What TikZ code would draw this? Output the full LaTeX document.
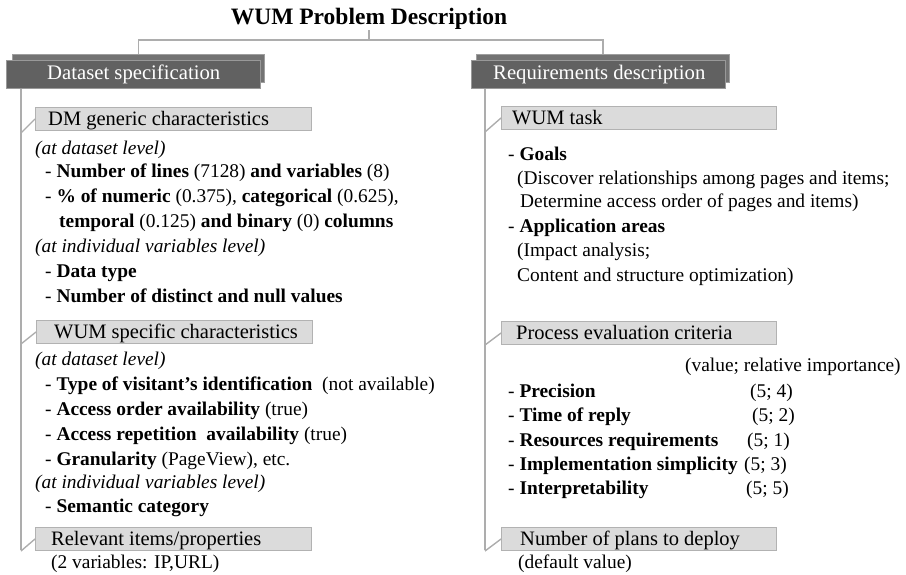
\documentclass[tikz,border=0pt]{standalone}
\usepackage{fontspec}
\setmainfont{Liberation Serif}
\begin{document}
\begin{tikzpicture}[x=1pt,y=-1pt,
  hdrback/.style={draw=black!38, fill=black!55, line width=1pt, anchor=north west, inner sep=0},
  hdrfront/.style={draw=black!40, fill=black!62, line width=1pt, anchor=north west, inner sep=0},
  subbox/.style={draw=black!30, fill=black!14, line width=1pt, anchor=north west, inner sep=0},
  conn/.style={draw=black!32, line width=1.4pt},
  txt/.style={anchor=base west, inner sep=0, font=\fontsize{19.4}{23}\selectfont},
  itx/.style={anchor=base west, inner sep=0, font=\fontsize{19.4}{23}\selectfont\itshape},
  boxtxt/.style={anchor=base west, inner sep=0, font=\fontsize{20.5}{24}\selectfont},
  hdrtxt/.style={anchor=base west, inner sep=0, text=white, font=\fontsize{20.7}{24}\selectfont}]
\useasboundingbox (0,0) rectangle (906,575);

% title
\node[anchor=base, inner sep=0, font=\fontsize{23.5}{28}\selectfont\bfseries] (title) at (369,25) {WUM Problem Description};

% headers
\node[hdrback, minimum width=252pt, minimum height=28pt] (dsB) at (12,54) {};
\node[hdrfront, minimum width=254pt, minimum height=28pt] (dsF) at (6,60) {};
\node[hdrtxt] (dsT) at (47,80) {Dataset specification};
\node[hdrback, minimum width=253pt, minimum height=28pt] (rqB) at (476,54) {};
\node[hdrfront, minimum width=254pt, minimum height=28pt] (rqF) at (471,60) {};
\node[hdrtxt] (rqT) at (493,80) {Requirements description};

% title connectors
\coordinate (hl) at (369,40);
\draw[conn] (title.south) -- (hl);
\draw[conn] (dsB.north) -- (dsB.north |- hl) -- (rqB.north |- hl) -- (rqB.north);

% left sub boxes
\node[subbox, minimum width=276pt, minimum height=23pt] (dm) at (35,107) {};
\node[boxtxt] (dmT) at (48,126) {DM generic characteristics};
\node[subbox, minimum width=276pt, minimum height=23pt] (ws) at (36,320) {};
\node[boxtxt] (wsT) at (54,338) {WUM specific characteristics};
\node[subbox, minimum width=276pt, minimum height=23pt] (rel) at (35,527) {};
\node[boxtxt] (relT) at (51,545) {Relevant items/properties};

% right sub boxes
\node[subbox, minimum width=275pt, minimum height=23pt] (wt) at (501,106) {};
\node[boxtxt] (wtT) at (512,125) {WUM task};
\node[subbox, minimum width=275pt, minimum height=23pt] (pe) at (501,321) {};
\node[boxtxt] (peT) at (516,339) {Process evaluation criteria};
\node[subbox, minimum width=275pt, minimum height=23pt] (np) at (501,527) {};
\node[boxtxt] (npT) at (520,545) {Number of plans to deploy};

% left tree
\coordinate (lend) at (21,550);
\draw[conn] (dsF.south -| lend) -- (lend);
\draw[conn] ([yshift=-2pt]lend |- dm.south) -- (dm.west);
\draw[conn] (lend |- ws.south) -- (ws.west);
\draw[conn] (lend |- rel.south) -- (rel.west);

% right tree
\coordinate (rend) at (485,550);
\draw[conn] (rqF.south -| rend) -- (rend);
\draw[conn] ([yshift=-2pt]rend |- wt.south) -- (wt.west);
\draw[conn] (rend |- pe.south) -- (pe.west);
\draw[conn] (rend |- np.south) -- (np.west);

% left texts
\node[itx] (l1) at (35,155) {(at dataset level)};
\node[txt] (l2) at (45,178) {- \textbf{Number of lines} (7128) \textbf{and variables} (8)};
\node[txt] (l3) at (45,203) {- \textbf{\% of numeric} (0.375), \textbf{categorical} (0.625),};
\node[txt] (l4) at (59,228) {\textbf{temporal} (0.125) \textbf{and binary} (0) \textbf{columns}};
\node[itx] (l5) at (35,253) {(at individual variables level)};
\node[txt] (l6) at (45,277) {- \textbf{Data type}};
\node[txt] (l7) at (45,302) {- \textbf{Number of distinct and null values}};
\node[itx] (l8) at (35,365) {(at dataset level)};
\node[txt] (l9) at (45,390) {- \textbf{Type of visitant’s identification}\ \ (not available)};
\node[txt] (l10) at (45,415) {- \textbf{Access order availability} (true)};
\node[txt] (l11) at (45,440) {- \textbf{Access repetition\ \ availability} (true)};
\node[txt] (l12) at (45,465) {- \textbf{Granularity} (PageView), etc.};
\node[itx] (l13) at (35,488) {(at individual variables level)};
\node[txt] (l14) at (45,512) {- \textbf{Semantic category}};
\node[txt] (l15) at (51,568) {(2 variables: IP,URL)};

% right texts
\node[txt] (r1) at (508,161) {- \textbf{Goals}};
\node[txt] (r2) at (517,185) {(Discover relationships among pages and items;};
\node[txt] (r3) at (520,208) {Determine access order of pages and items)};
\node[txt] (r4) at (508,233) {- \textbf{Application areas}};
\node[txt] (r5) at (517,257) {(Impact analysis;};
\node[txt] (r6) at (517,281) {Content and structure optimization)};
\node[txt] (r7) at (685,371) {(value; relative importance)};
\node[txt] (r8) at (508,397) {- \textbf{Precision}};
\node[txt] (r8v) at (750,397) {(5; 4)};
\node[txt] (r9) at (508,421) {- \textbf{Time of reply}};
\node[txt] (r9v) at (752,421) {(5; 2)};
\node[txt] (r10) at (508,446) {- \textbf{Resources requirements}};
\node[txt] (r10v) at (747,446) {(5; 1)};
\node[txt] (r11) at (508,470) {- \textbf{Implementation simplicity}};
\node[txt] (r11v) at (744,470) {(5; 3)};
\node[txt] (r12) at (508,494) {- \textbf{Interpretability}};
\node[txt] (r12v) at (746,494) {(5; 5)};
\node[txt] (r13) at (518,568) {(default value)};
\end{tikzpicture}
\end{document}
